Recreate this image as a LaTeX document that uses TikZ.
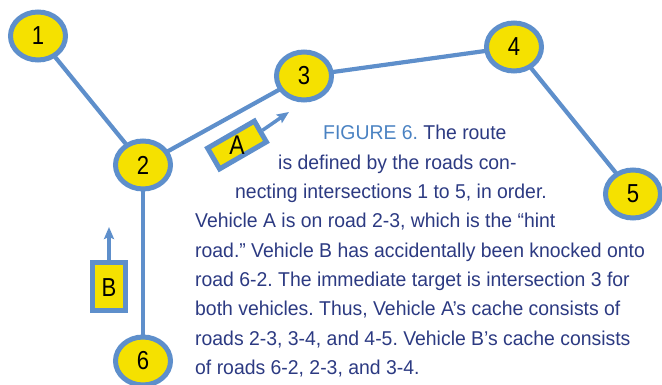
\documentclass[tikz,border=0pt]{standalone}
\usepackage{fontspec}
\setmainfont{Liberation Sans}[FakeStretch=0.97]
\newfontfamily\numfont{Liberation Sans}[FakeStretch=0.85]
\usetikzlibrary{shapes.geometric,arrows.meta}
\definecolor{roadblue}{HTML}{5E8FCB}
\definecolor{nodeyel}{HTML}{F5E100}
\definecolor{txtnavy}{HTML}{2C3A82}
\definecolor{figblue}{HTML}{4A82C2}
\frenchspacing
\begin{document}
\begin{tikzpicture}[x=1pt,y=-1pt,
  inter/.style={ellipse,draw=roadblue,fill=nodeyel,line width=5pt,minimum width=55pt,minimum height=48pt,inner sep=0pt,font=\numfont\fontsize{26}{26}\selectfont,text=black},
  roadline/.style={draw=roadblue,line width=4.2pt},
  vbox/.style={rectangle,draw=roadblue,fill=nodeyel,line width=5pt,inner sep=0pt},
  varrow/.style={draw=roadblue,line width=3.5pt,-{Stealth[length=12pt,width=10pt,inset=2pt]}},
  vlabel/.style={font=\numfont\fontsize{26}{26}\selectfont,text=black,inner sep=0pt},
  captext/.style={anchor=base west,inner sep=0pt,text=txtnavy,font=\fontsize{20}{24}\selectfont}]
\useasboundingbox (0,0) rectangle (662,385);
% roads
\coordinate (c1) at (38,36);
\coordinate (c2) at (143,165);
\coordinate (c3) at (304,76);
\coordinate (c4) at (514,47);
\coordinate (c5) at (633,194);
\coordinate (c6) at (143,361);
\draw[roadline] (c1) -- (c2);
\draw[roadline] (c2) -- (c3);
\draw[roadline] (c3) -- (c4);
\draw[roadline] (c4) -- (c5);
\draw[roadline] (c2) -- (c6);
% intersections
\node[inter] (n1) at (c1) {1};
\node[inter] (n2) at (c2) {2};
\node[inter] (n3) at (c3) {3};
\node[inter] (n4) at (c4) {4};
\node[inter] (n5) at (c5) {5};
\node[inter] (n6) at (c6) {6};
% vehicle A
\node[vbox,minimum width=54pt,minimum height=24pt,rotate=30] (boxA) at (237,145) {};
\node[vlabel,font=\numfont\fontsize{27}{27}\selectfont] (labA) at (237,145) {A};
\coordinate (tipA) at (289,112);
\draw[varrow] (boxA.east) -- (tipA);
% vehicle B
\node[vbox,minimum width=33pt,minimum height=48pt] (boxB) at (109,286) {};
\node[vlabel] (labB) at (109,288) {B};
\coordinate (tipB) at (109,227);
\draw[varrow] (boxB.north) -- (tipB);
% caption
\node[captext] (t1) at (323,140) {\textcolor{figblue}{FIGURE 6.} The route};
\node[captext] (t2) at (278,169.3) {is defined by the roads con-};
\node[captext] (t3) at (235,198.6) {necting intersections 1 to 5, in order.};
\node[captext] (t4) at (195,227.9) {Vehicle A is on road 2-3, which is the “hint};
\node[captext] (t5) at (195,257.2) {road.” Vehicle B has accidentally been knocked onto};
\node[captext] (t6) at (195,286.5) {road 6-2. The immediate target is intersection 3 for};
\node[captext] (t7) at (195,315.8) {both vehicles. Thus, Vehicle A’s cache consists of};
\node[captext] (t8) at (195,345.1) {roads 2-3, 3-4, and 4-5. Vehicle B’s cache consists};
\node[captext] (t9) at (195,374.4) {of roads 6-2, 2-3, and 3-4.};
\end{tikzpicture}
\end{document}
